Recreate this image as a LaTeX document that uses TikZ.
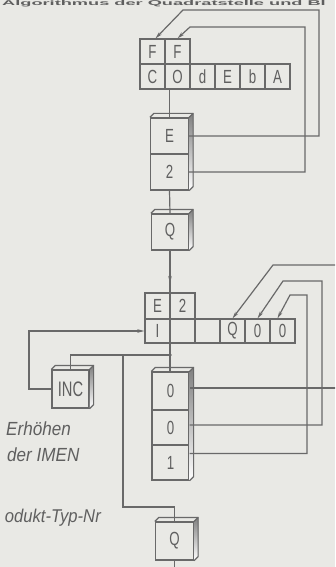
\documentclass[tikz,border=0pt]{standalone}
\usepackage{fontspec}
\setmainfont{Liberation Sans}
\newfontfamily\dinfont[FakeStretch=0.7]{Liberation Sans}
\newfontfamily\handfont[FakeStretch=0.9]{Liberation Sans}
\usetikzlibrary{arrows.meta,calc}
\definecolor{bg}{RGB}{233,233,229}
\definecolor{ink}{RGB}{105,105,105}
\definecolor{txt}{RGB}{95,95,95}
\definecolor{shade}{RGB}{140,140,140}
\newcommand\cubeface[2]{%
  \fill[shade] (#1 -| #2) -- ++(4,-4) -- ($(#2)+(4,-4)$) -- (#2) -- cycle;
  \draw[wire] (#1) -- ++(4,-4) -- ($(#1 -| #2)+(4,-4)$) -- ($(#2)+(4,-4)$) -- (#2);
  \draw[wire] ($(#1 -| #2)+(4,-4)$) -- (#1 -| #2);}
\begin{document}
\begin{tikzpicture}[x=1pt,y=-1pt,
  wire/.style={draw=ink,line width=1.2pt},
  arr/.style={-{Stealth[length=7pt,width=3.5pt]}},
  cell/.style={wire, minimum width=25pt, minimum height=25pt, inner sep=0pt, text=txt, font=\dinfont\fontsize{19}{19}\selectfont},
  box/.style={cell, minimum width=37pt, minimum height=36pt},
  note/.style={text=txt, font=\handfont\itshape\fontsize{19}{19}\selectfont, inner sep=0pt}]
\useasboundingbox (0,0) rectangle (335,567);
\fill[bg] (0,0) rectangle (335,567);
\clip (0,0) rectangle (335,567);

% heading (thin band at the top edge)
\node[anchor=north west, text=txt, inner sep=0pt] (head) at (2,0.5)
  {\scalebox{2.6}[1]{\bfseries\fontsize{7}{7}\selectfont Algorithmus der Quadratstelle und Bl}};

% top register
\node[cell] (F1) at (152.5,51.5) {F};
\node[cell] (F2) at (177.5,51.5) {F};
\node[cell] (c1) at (152.5,76.5) {C};
\node[cell] (c2) at (177.5,76.5) {O};
\node[cell] (c3) at (202.5,76.5) {d};
\node[cell] (c4) at (227.5,76.5) {E};
\node[cell] (c5) at (252.5,76.5) {b};
\node[cell] (c6) at (277.5,76.5) {A};

% E / 2 box
\node[box, minimum width=38pt] (E) at (169.5,136) {E};
\node[box, minimum width=38pt] (Two) at (169.5,172) {2};
\cubeface{E.north west}{Two.south east}

% Q box
\node[box] (Q1) at (170,232) {Q};
\cubeface{Q1.north west}{Q1.south east}

% E2 register
\node[cell, minimum height=26pt] (r1) at (157.5,306) {E};
\node[cell, minimum height=26pt] (r2) at (182.5,306) {2};
\node[cell, minimum height=24pt] (I)  at (157.5,331) {I};
\node[cell, minimum height=24pt] (b2) at (182.5,331) {};
\node[cell, minimum height=24pt] (b3) at (207.5,331) {};
\node[cell, minimum height=24pt] (qc) at (232.5,331) {Q};
\node[cell, minimum height=24pt] (o1) at (257.5,331) {0};
\node[cell, minimum height=24pt] (o2) at (282.5,331) {0};

% stack 0 0 1
\node[box, minimum height=38pt] (z1) at (170.5,391) {0};
\node[box, minimum height=35pt] (z2) at (170.5,427.5) {0};
\node[box, minimum height=35pt] (z3) at (170.5,462.5) {1};
\cubeface{z1.north west}{z3.south east}

% INC
\node[box, minimum height=38pt, font=\dinfont\fontsize{21}{21}\selectfont] (INC) at (70.5,389) {INC};
\cubeface{INC.north west}{INC.south east}

% lower Q
\node[box, minimum width=38pt, minimum height=38pt] (Q2) at (174.5,541) {Q};
\cubeface{Q2.north west}{Q2.south east}

% texts
\node[note, anchor=west] (t1) at (6,429) {Erhöhen};
\node[note, anchor=west] (t2) at (7,455) {der IMEN};
\node[note, anchor=east, font=\handfont\itshape\fontsize{18.5}{18.5}\selectfont] (t3) at (101,518) {odukt-Typ-Nr};

% connectors
\draw[wire] (E.north) -- (E.north |- c1.south);
\draw[wire,arr] (E.east) -| (319,10) -- (183,10) -- ([xshift=3pt]F1.north);
\draw[wire,arr] (Two.east) -| (305,27) -- (190,27) -- (F2.north);
\draw[wire] (Two.south) -- (Q1.north);
\draw[wire,arr] (Q1.south) -- (170,283);
\coordinate (J) at (170,355);
\draw[wire] (170,280) -- (J) -- (J |- z1.north);
\fill[ink] (J) circle (1.8);
\draw[wire] (INC.north) |- (J);
\draw[wire] (123,355) -- (123,507) -| (Q2.north);
\draw[wire,arr] (INC.west) -| (29,331) -- (I.west);
\draw[wire] (Q2.south) -- ++(0,20);
\draw[wire] ([yshift=3pt]z1.east) -- (340,388);
\draw[wire,arr] (340,265) -- (273,265) -- (qc.north);
\draw[wire,arr] ([yshift=2.5pt]z2.east) -| (322,281) -- (283,281) -- (o1.north);
\draw[wire,arr] ([yshift=9pt]z3.east) -| (307,295) -- (290,295) -- ([xshift=-5pt]o2.north);
\end{tikzpicture}
\end{document}
